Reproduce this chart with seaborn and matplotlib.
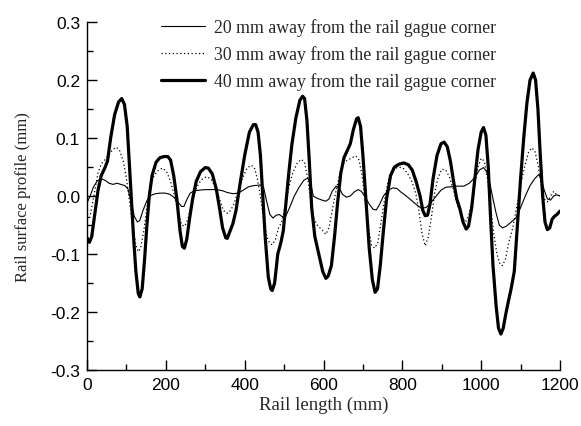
import numpy as np
import pandas as pd
import matplotlib
matplotlib.use("Agg")
import matplotlib.pyplot as plt
import seaborn as sns
from matplotlib.ticker import MultipleLocator

sns.set_theme(style="white")
plt.rcParams['font.family'] = ['Liberation Sans', 'DejaVu Sans']

labels = ["20 mm away from the rail gague corner",
          "30 mm away from the rail gague corner",
          "40 mm away from the rail gague corner"]

x20 = [0, 8, 16, 26, 36, 46, 56, 66, 76, 86, 96, 104, 112, 120, 128, 134, 142, 152, 162, 174,
       186, 198, 210, 220, 230, 240, 246, 254, 262, 272, 284, 300, 316, 330, 344, 356, 370, 384,
       396, 410, 424, 440, 448, 456, 464, 472, 480, 488, 496, 504, 514, 526, 538, 550, 560, 568,
       574, 584, 596, 606, 614, 622, 632, 640, 648, 658, 668, 678, 688, 696, 706, 716, 726, 734,
       742, 752, 764, 776, 786, 796, 808, 822, 836, 848, 860, 872, 886, 898, 910, 924, 940, 956,
       970, 984, 996, 1006, 1014, 1022, 1030, 1038, 1046, 1054, 1064, 1076, 1088, 1100, 1112,
       1124, 1136, 1146, 1152, 1160, 1168, 1176, 1184, 1192, 1200]
y20 = [-0.012, 0.0, 0.015, 0.026, 0.03, 0.027, 0.022, 0.02, 0.022, 0.02, 0.018, 0.012, -0.01,
       -0.035, -0.045, -0.042, -0.025, -0.008, 0.001, 0.004, 0.005, 0.005, 0.003, -0.002, -0.01,
       -0.018, -0.018, -0.005, 0.005, 0.009, 0.01, 0.011, 0.011, 0.011, 0.009, 0.006, 0.004,
       0.005, 0.01, 0.016, 0.018, 0.019, 0.015, -0.01, -0.032, -0.038, -0.033, -0.032, -0.036,
       -0.035, -0.02, 0.0, 0.015, 0.027, 0.031, 0.02, 0.0, -0.004, -0.007, -0.009, -0.005, 0.008,
       0.017, 0.014, 0.003, -0.002, 0.0, 0.007, 0.011, 0.008, -0.002, -0.014, -0.023, -0.024,
       -0.015, 0.0, 0.01, 0.014, 0.013, 0.007, 0.001, -0.007, -0.015, -0.021, -0.02, -0.012, 0.0,
       0.01, 0.015, 0.016, 0.017, 0.017, 0.022, 0.032, 0.045, 0.049, 0.042, 0.022, -0.005, -0.03,
       -0.05, -0.055, -0.052, -0.045, -0.038, -0.02, 0.0, 0.018, 0.03, 0.037, 0.03, 0.01, -0.005,
       -0.007, 0.0, 0.002, 0.0]

x30 = [0, 6, 12, 20, 28, 36, 45, 55, 65, 74, 82, 92, 100, 108, 116, 124, 130, 136, 144, 152,
       160, 170, 182, 192, 202, 212, 222, 232, 240, 248, 256, 266, 278, 290, 302, 314, 326, 336,
       346, 356, 364, 372, 382, 394, 406, 416, 424, 432, 440, 448, 456, 464, 470, 478, 486, 494,
       502, 512, 522, 534, 544, 552, 560, 568, 576, 586, 596, 606, 614, 622, 632, 642, 652, 662,
       672, 682, 690, 698, 706, 714, 722, 730, 738, 746, 754, 764, 776, 790, 802, 814, 824, 834,
       842, 850, 858, 866, 874, 882, 890, 900, 910, 920, 930, 940, 950, 960, 968, 976, 984, 992,
       1000, 1008, 1016, 1024, 1032, 1040, 1048, 1054, 1062, 1070, 1080, 1090, 1100, 1110, 1120,
       1128, 1136, 1144, 1152, 1160, 1168, 1176, 1184, 1192, 1200]
y30 = [-0.03, -0.04, -0.02, 0.01, 0.04, 0.055, 0.062, 0.07, 0.08, 0.084, 0.08, 0.06, 0.03,
       -0.01, -0.05, -0.085, -0.096, -0.09, -0.06, -0.02, 0.015, 0.035, 0.045, 0.048, 0.042,
       0.025, 0.0, -0.03, -0.05, -0.052, -0.04, -0.01, 0.015, 0.028, 0.033, 0.03, 0.015, -0.005,
       -0.025, -0.03, -0.025, -0.015, 0.005, 0.03, 0.048, 0.053, 0.05, 0.03, 0.0, -0.04, -0.07,
       -0.082, -0.084, -0.075, -0.055, -0.045, -0.02, 0.015, 0.04, 0.058, 0.063, 0.058, 0.03,
       -0.01, -0.04, -0.052, -0.058, -0.066, -0.055, -0.025, 0.01, 0.04, 0.058, 0.062, 0.066,
       0.069, 0.062, 0.035, -0.01, -0.055, -0.085, -0.09, -0.08, -0.045, -0.01, 0.025, 0.045,
       0.05, 0.048, 0.038, 0.025, 0.005, -0.025, -0.065, -0.086, -0.07, -0.035, 0.005, 0.03,
       0.046, 0.045, 0.032, 0.01, -0.015, -0.035, -0.045, -0.035, -0.01, 0.02, 0.05, 0.065, 0.06,
       0.03, -0.02, -0.065, -0.1, -0.118, -0.12, -0.108, -0.08, -0.055, -0.02, 0.02, 0.05, 0.075,
       0.083, 0.078, 0.055, 0.02, -0.005, -0.01, 0.0, 0.008, 0.002, 0.0]

x40 = [0, 6, 12, 20, 28, 36, 45, 52, 60, 70, 80, 88, 95, 102, 108, 113, 118, 124, 130, 134,
       140, 146, 152, 158, 165, 175, 185, 195, 205, 212, 220, 228, 236, 242, 247, 253, 260, 268,
       277, 288, 300, 308, 318, 328, 336, 344, 352, 356, 362, 370, 378, 388, 400, 412, 422, 428,
       434, 440, 446, 452, 460, 466, 470, 476, 484, 492, 498, 505, 512, 520, 530, 540, 547, 552,
       558, 564, 570, 578, 588, 598, 606, 612, 620, 628, 636, 644, 652, 660, 668, 676, 684, 688,
       694, 700, 708, 716, 724, 731, 737, 744, 752, 760, 770, 780, 792, 804, 815, 825, 835, 845,
       852, 858, 864, 870, 878, 888, 898, 906, 914, 922, 930, 938, 946, 954, 962, 968, 976, 984,
       992, 1000, 1006, 1012, 1018, 1024, 1030, 1038, 1044, 1050, 1056, 1062, 1068, 1076, 1084,
       1092, 1100, 1108, 1116, 1124, 1132, 1138, 1144, 1150, 1156, 1162, 1168, 1174, 1180, 1186,
       1192, 1200]
y40 = [-0.072, -0.08, -0.07, -0.03, 0.01, 0.035, 0.048, 0.06, 0.1, 0.14, 0.162, 0.168, 0.158,
       0.12, 0.05, -0.01, -0.07, -0.13, -0.168, -0.174, -0.16, -0.11, -0.05, 0.0, 0.035, 0.058,
       0.066, 0.068, 0.068, 0.062, 0.035, -0.005, -0.06, -0.087, -0.09, -0.075, -0.04, -0.005,
       0.025, 0.042, 0.049, 0.048, 0.038, 0.012, -0.02, -0.055, -0.072, -0.073, -0.062, -0.048,
       -0.025, 0.02, 0.07, 0.11, 0.123, 0.123, 0.11, 0.07, 0.0, -0.07, -0.14, -0.16, -0.163,
       -0.15, -0.1, -0.08, -0.06, -0.01, 0.04, 0.09, 0.135, 0.165, 0.172, 0.168, 0.13, 0.06,
       -0.02, -0.07, -0.1, -0.13, -0.142, -0.138, -0.12, -0.07, -0.01, 0.04, 0.066, 0.078, 0.09,
       0.115, 0.133, 0.135, 0.12, 0.07, -0.01, -0.09, -0.145, -0.166, -0.16, -0.12, -0.06,
       -0.005, 0.035, 0.05, 0.055, 0.057, 0.054, 0.045, 0.025, 0.0, -0.025, -0.034, -0.033,
       -0.015, 0.03, 0.07, 0.09, 0.093, 0.085, 0.06, 0.025, -0.005, -0.022, -0.045, -0.057,
       -0.052, -0.02, 0.03, 0.08, 0.11, 0.118, 0.105, 0.05, -0.04, -0.12, -0.19, -0.228, -0.238,
       -0.228, -0.205, -0.185, -0.16, -0.13, -0.05, 0.03, 0.1, 0.16, 0.2, 0.212, 0.2, 0.15, 0.07,
       0.0, -0.045, -0.058, -0.055, -0.04, -0.035, -0.032, -0.026]

xticks = [0, 200, 400, 600, 800, 1000, 1200]
yticks = [-0.3, -0.2, -0.1, 0.0, 0.1, 0.2, 0.3]
ytick_labels = ["-0.3", "-0.2", "-0.1", "0.0", "0.1", "0.2", "0.3"]

fig = plt.figure(figsize=(5.81, 4.27), dpi=100)
ax = fig.add_axes([87/581, 1 - 371/427, (560-87)/581, (371-23)/427])

series = [(x20, y20, labels[0], dict(lw=0.8, ls='-')),
          (x30, y30, labels[1], dict(lw=0.9, ls=(0, (1, 2)))),
          (x40, y40, labels[2], dict(lw=2.3, ls='-'))]
for xs, ys, lab, st in series:
    df = pd.DataFrame({"x": xs, "y": ys})
    sns.lineplot(data=df, x="x", y="y", ax=ax, color="black", label=lab,
                 linewidth=st['lw'], linestyle=st['ls'], estimator=None, sort=False)

ax.set_xlim(0, 1200)
ax.set_ylim(-0.3, 0.3)
ax.set_xticks(xticks)
ax.set_yticks(yticks)
ax.set_yticklabels(ytick_labels)
ax.xaxis.set_minor_locator(MultipleLocator(100))
ax.yaxis.set_minor_locator(MultipleLocator(0.05))
ax.tick_params(which='major', direction='in', length=7, width=1, colors='black',
               labelsize=12.5, pad=5)
ax.tick_params(which='minor', direction='in', length=4, width=1, colors='black')
ax.tick_params(axis='x', which='both', bottom=True, top=False)
ax.tick_params(axis='y', which='both', left=True, right=False)

for s in ['top', 'right']:
    ax.spines[s].set_visible(False)
for s in ['left', 'bottom']:
    ax.spines[s].set_color('black')
    ax.spines[s].set_linewidth(1.0)

serif = ['Liberation Serif', 'DejaVu Serif']
ax.set_xlabel("Rail length (mm)", fontsize=13.5, family=serif, labelpad=3)
ax.set_ylabel("Rail surface profile (mm)", fontsize=12, family=serif, labelpad=14)

leg = ax.legend(loc='upper left', bbox_to_anchor=(67/473, 1.031), frameon=False,
                prop={'family': serif, 'size': 12.8}, handlelength=2.45, handletextpad=0.55,
                labelspacing=0.52, borderaxespad=0)

fig.savefig("out.png", dpi=100)
